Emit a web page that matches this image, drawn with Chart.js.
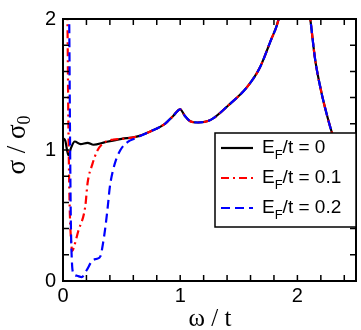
<!DOCTYPE html>
<html>
<head>
<meta charset="utf-8">
<script src="https://cdn.jsdelivr.net/npm/chart.js@4.4.1/dist/chart.umd.min.js"></script>
<style>
  body { margin: 0; background: #fff; }
  #wrap { width: 361px; height: 330px; }
</style>
</head>
<body>
<div id="wrap"><canvas id="c"></canvas></div>
<script>
// sigma / sigma0 vs omega / t
const legendLabels = ['0', '0.1', '0.2'];   // E_F/t values

const omega0 = [0, 0.02, 0.045, 0.07, 0.1, 0.15, 0.21, 0.26, 0.36, 0.5, 0.62, 0.74, 0.87, 0.94, 1.0, 1.04, 1.085, 1.15, 1.26, 1.41, 1.57, 1.68, 1.77, 1.84, 1.92, 2.0, 2.06, 2.11, 2.15, 2.2, 2.26, 2.31, 2.37, 2.43, 2.5];
const sigma0 = [1.09, 1.07, 0.96, 1.02, 1.065, 1.045, 1.055, 1.04, 1.06, 1.085, 1.10, 1.14, 1.2, 1.26, 1.31, 1.26, 1.22, 1.21, 1.23, 1.34, 1.48, 1.63, 1.83, 2.0, 2.4, 2.6, 2.3, 2.0, 1.7, 1.46, 1.24, 1.09, 0.97, 0.87, 0.77];

const omega1 = [0.03, 0.038, 0.046, 0.056, 0.068, 0.08, 0.09, 0.13, 0.19, 0.21, 0.25, 0.29, 0.34, 0.43, 0.5, 0.62, 0.74, 0.87, 0.94, 1.0, 1.04, 1.085, 1.15, 1.26, 1.41, 1.57, 1.68, 1.77, 1.84, 1.92, 2.0, 2.06, 2.11, 2.15, 2.2, 2.26, 2.31, 2.37, 2.43, 2.5];
const sigma1 = [2.6, 2.0, 1.2, 0.6, 0.32, 0.23, 0.25, 0.38, 0.57, 0.75, 0.89, 0.99, 1.05, 1.08, 1.085, 1.10, 1.14, 1.2, 1.26, 1.31, 1.26, 1.22, 1.21, 1.23, 1.34, 1.48, 1.63, 1.83, 2.0, 2.4, 2.6, 2.3, 2.0, 1.7, 1.46, 1.24, 1.09, 0.97, 0.87, 0.77];

const omega2 = [0.045, 0.053, 0.06, 0.067, 0.076, 0.088, 0.12, 0.16, 0.2, 0.25, 0.29, 0.32, 0.34, 0.36, 0.38, 0.4, 0.44, 0.49, 0.55, 0.62, 0.74, 0.87, 0.94, 1.0, 1.04, 1.085, 1.15, 1.26, 1.41, 1.57, 1.68, 1.77, 1.84, 1.92, 2.0, 2.06, 2.11, 2.15, 2.2, 2.26, 2.31, 2.37, 2.43, 2.5];
const sigma2 = [2.6, 2.0, 1.1, 0.45, 0.15, 0.06, 0.04, 0.03, 0.08, 0.155, 0.17, 0.19, 0.28, 0.4, 0.55, 0.72, 0.89, 1.0, 1.06, 1.09, 1.14, 1.2, 1.26, 1.31, 1.26, 1.22, 1.21, 1.23, 1.34, 1.48, 1.63, 1.83, 2.0, 2.4, 2.6, 2.3, 2.0, 1.7, 1.46, 1.24, 1.09, 0.97, 0.87, 0.77];

const xTicks = [0, 1, 2];
const yTicks = [0, 1, 2];

const pts = (xs, ys) => xs.map((x, i) => ({ x: x, y: ys[i] }));

const styles = [
  { color: '#000000', dash: [] },
  { color: '#ff0000', dash: [8, 4, 2, 4] },
  { color: '#0000ff', dash: [9, 5] }
];

// frame, inward ticks, legend and axis titles
const decor = {
  id: 'decor',
  afterDraw(chart) {
    const ctx = chart.ctx;
    const a = chart.chartArea;
    const xs = chart.scales.x, ys = chart.scales.y;
    ctx.save();
    ctx.strokeStyle = '#000';
    ctx.lineWidth = 1.5;
    ctx.beginPath();
    for (let v = 0; v <= 2.5001; v += 0.2) {
      const p = xs.getPixelForValue(v);
      ctx.moveTo(p, a.bottom); ctx.lineTo(p, a.bottom - 6);
      ctx.moveTo(p, a.top); ctx.lineTo(p, a.top + 6);
    }
    for (let v = 0; v <= 2.0001; v += 0.2) {
      const p = ys.getPixelForValue(v);
      ctx.moveTo(a.left, p); ctx.lineTo(a.left + 6, p);
      ctx.moveTo(a.right, p); ctx.lineTo(a.right - 6, p);
    }
    ctx.stroke();
    ctx.lineWidth = 2;
    ctx.strokeRect(a.left, a.top, a.right - a.left, a.bottom - a.top);

    // legend box
    const lx = 215, ly = 133, lw = a.right - lx, lh = 94;
    ctx.fillStyle = '#fff';
    ctx.fillRect(lx, ly, lw, lh);
    ctx.lineWidth = 1.5;
    ctx.strokeRect(lx, ly, lw, lh);
    legendLabels.forEach((lab, i) => {
      const y = ly + 15 + i * 30;
      ctx.strokeStyle = styles[i].color;
      ctx.lineWidth = 2.2;
      ctx.setLineDash(styles[i].dash);
      ctx.beginPath();
      ctx.moveTo(221, y); ctx.lineTo(253, y);
      ctx.stroke();
      ctx.setLineDash([]);
      ctx.fillStyle = '#000';
      ctx.textBaseline = 'middle';
      ctx.textAlign = 'left';
      let x = 262;
      ctx.font = '19px "Liberation Sans", Arial, sans-serif';
      ctx.fillText('E', x, y);
      x += ctx.measureText('E').width;
      ctx.font = '13px "Liberation Sans", Arial, sans-serif';
      ctx.fillText('F', x, y + 7);
      x += ctx.measureText('F').width;
      ctx.font = '19px "Liberation Sans", Arial, sans-serif';
      ctx.fillText('/t = ' + lab, x, y);
    });

    // x title
    ctx.fillStyle = '#000';
    ctx.textBaseline = 'alphabetic';
    ctx.textAlign = 'left';
    ctx.font = '25px "Liberation Serif", "Times New Roman", serif';
    const xt = 'ω / t';
    const xw = ctx.measureText(xt).width;
    ctx.fillText(xt, 210 - xw / 2, 326);

    // y title (rotated)
    ctx.translate(25, 145);
    ctx.rotate(-Math.PI / 2);
    const big = '27px "Liberation Serif", "Times New Roman", serif';
    const small = '18px "Liberation Serif", "Times New Roman", serif';
    ctx.font = big;
    const t1 = 'σ / σ';
    const w1 = ctx.measureText(t1).width;
    ctx.font = small;
    const w2 = ctx.measureText('0').width;
    let x0 = -(w1 + w2) / 2;
    ctx.font = big;
    ctx.fillText(t1, x0, 0);
    ctx.font = small;
    ctx.fillText('0', x0 + w1, 5);
    ctx.restore();
  }
};

new Chart(document.getElementById('c'), {
  type: 'line',
  data: {
    datasets: [
      { data: pts(omega0, sigma0), order: 3 },
      { data: pts(omega1, sigma1), order: 2 },
      { data: pts(omega2, sigma2), order: 1 }
    ].map((d, i) => Object.assign(d, {
      label: 'E_F/t = ' + legendLabels[i],
      borderColor: styles[i].color,
      borderDash: styles[i].dash,
      borderWidth: 2.2,
      pointRadius: 0,
      fill: false,
      cubicInterpolationMode: 'monotone',
      clip: 0
    }))
  },
  options: {
    responsive: true,
    maintainAspectRatio: false,
    animation: false,
    layout: { padding: { left: 0, right: 5, top: 10, bottom: 0 } },
    plugins: { legend: { display: false }, tooltip: { enabled: false } },
    scales: {
      x: {
        type: 'linear', min: 0, max: 2.5,
        grid: { display: false, drawTicks: false },
        border: { display: false },
        afterFit: s => { s.height = 49; },
        afterBuildTicks: s => { s.ticks = xTicks.map(v => ({ value: v })); },
        ticks: { color: '#000', padding: 3, maxRotation: 0, autoSkip: false,
                 font: { family: '"Liberation Sans", Arial, sans-serif', size: 20 } }
      },
      y: {
        type: 'linear', min: 0, max: 2,
        grid: { display: false, drawTicks: false },
        border: { display: false },
        afterFit: s => { s.width = 63; },
        afterBuildTicks: s => { s.ticks = yTicks.map(v => ({ value: v })); },
        ticks: { color: '#000', padding: 7, autoSkip: false,
                 font: { family: '"Liberation Sans", Arial, sans-serif', size: 20 } }
      }
    }
  },
  plugins: [decor]
});
</script>
</body>
</html>
